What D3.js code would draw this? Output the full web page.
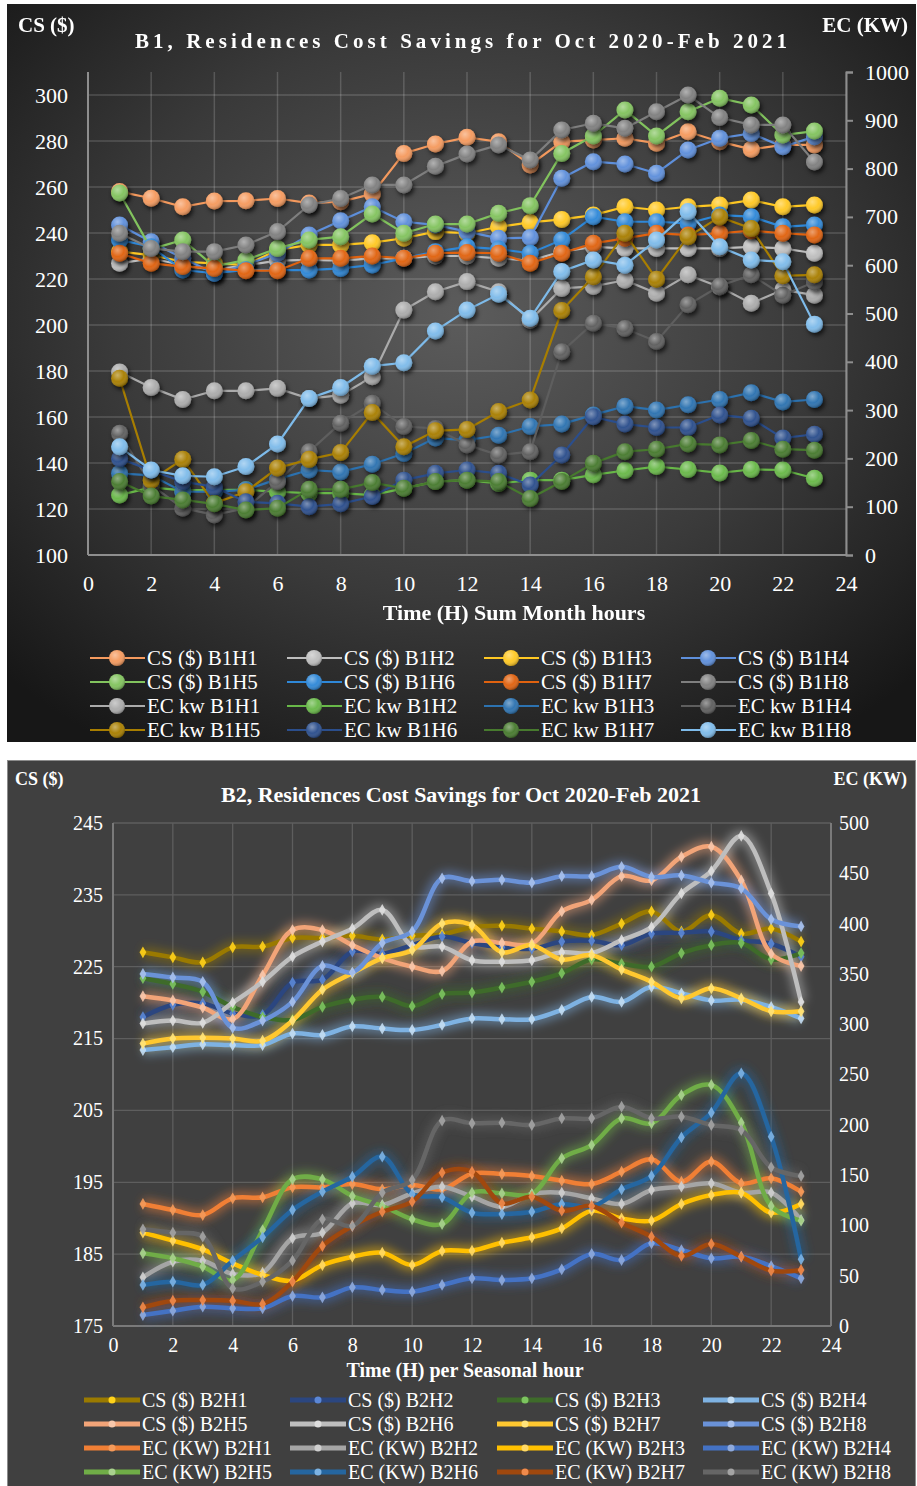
<!DOCTYPE html>
<html>
<head>
<meta charset="utf-8">
<script src="https://cdn.jsdelivr.net/npm/d3@7"></script>
<style>
  body { margin: 0; background: #fff; }
  svg text { font-family: "Liberation Serif", "Times New Roman", serif; fill: #fff; }
</style>
</head>
<body>
<svg id="viz" width="917" height="1486"></svg>
<script>
// x categories, shared by both charts
var hours = [1, 2, 3, 4, 5, 6, 7, 8, 9, 10, 11, 12, 13, 14, 15, 16, 17, 18, 19, 20, 21, 22, 23];
var xTicks = [0, 2, 4, 6, 8, 10, 12, 14, 16, 18, 20, 22, 24];

// ---------------- B1 ----------------
var b1LeftTicks = [100, 120, 140, 160, 180, 200, 220, 240, 260, 280, 300];
var b1RightTicks = [0, 100, 200, 300, 400, 500, 600, 700, 800, 900, 1000];
var b1Names = ['CS ($) B1H1', 'CS ($) B1H2', 'CS ($) B1H3', 'CS ($) B1H4',
               'CS ($) B1H5', 'CS ($) B1H6', 'CS ($) B1H7', 'CS ($) B1H8',
               'EC kw B1H1', 'EC kw B1H2', 'EC kw B1H3', 'EC kw B1H4',
               'EC kw B1H5', 'EC kw B1H6', 'EC kw B1H7', 'EC kw B1H8'];

// cost savings ($), left axis
var csB1H1 = [258, 255.1, 251.4, 253.9, 254, 255, 253, 253.6, 257, 274.6, 278.7, 281.6, 279.7, 269.6, 279.7, 280.4, 281.2, 279, 284, 279.7, 276.4, 278.3, 278.3];
var csB1H2 = [226.8, 229, 226, 224, 226, 228, 228.3, 228, 229, 229, 230, 230, 229, 228, 231.9, 234, 233.3, 233.3, 233.3, 233.3, 234, 233.3, 231.2];
var csB1H3 = [231.9, 230.4, 227.5, 226.8, 226.1, 232.6, 234.8, 234.8, 235.8, 237.7, 240.6, 239.9, 242.7, 244.6, 245.9, 247.8, 251.4, 250, 251.4, 252.2, 254.3, 251.4, 252.2];
var csB1H4 = [243.5, 236.2, 229, 222.5, 226.1, 231.2, 239.1, 245.3, 251.4, 244.9, 243.5, 240.6, 237.7, 238, 263.8, 271, 270, 266, 276.1, 281.2, 283.3, 277.5, 281.9];
var csB1H5 = [257.4, 233, 237, 225.4, 228.3, 233.3, 237, 238.4, 248.3, 239.9, 243.9, 243.9, 248.6, 251.9, 274.6, 282.2, 293.5, 282.2, 292.7, 298.6, 295.7, 282.6, 284.3];
var csB1H6 = [237, 234, 223.9, 222.5, 224, 223.9, 223.9, 224.6, 226.1, 229, 231.9, 234, 233, 231.2, 237, 247.1, 244.9, 244.9, 244.2, 247.8, 247.1, 242.7, 243.5];
var csB1H7 = [231.2, 226.8, 225.4, 224.6, 223.6, 223.6, 229, 229, 230, 229, 231.2, 231.5, 231.2, 226.8, 231.2, 235.5, 237.7, 239.9, 239.1, 239.9, 241, 239.9, 239.1];
var csB1H8 = [239.9, 233.3, 231.9, 231.9, 234.8, 240.6, 252.2, 255, 260.9, 260.9, 269, 274.3, 278.3, 271.7, 284.8, 287.7, 285.5, 292.7, 300, 290.2, 287, 287, 270.9];
// energy consumption (kW), right axis
var ecB1H1 = [379, 347, 322, 340, 340, 345, 324, 331, 369, 507, 545, 566, 545, 486, 552, 556, 569, 542, 580, 555, 521, 549, 538];
var ecB1H2 = [124, 140, 134, 135, 135, 131, 128, 128, 124, 138, 152, 155, 148, 155, 155, 166, 175, 183, 177, 170, 177, 176, 159];
var ecB1H3 = [169, 165, 131, 131, 135, 157, 176, 172, 188, 210, 242, 238, 248, 266, 271, 290, 308, 300, 311, 322, 336, 317, 322];
var ecB1H4 = [252, 145, 97, 83, 97, 152, 214, 273, 314, 266, 262, 228, 207, 214, 421, 480, 469, 442, 518, 557, 580, 538, 565];
var ecB1H5 = [366, 155, 198, 107, 131, 180, 198, 212, 295, 224, 257, 260, 297, 321, 506, 576, 666, 571, 659, 700, 676, 578, 580];
var ecB1H6 = [200, 175, 152, 141, 110, 107, 100, 106, 121, 155, 169, 176, 169, 145, 207, 286, 271, 264, 264, 290, 283, 242, 250];
var ecB1H7 = [152, 122, 114, 106, 93, 97, 136, 136, 150, 138, 152, 155, 152, 117, 152, 190, 214, 219, 230, 228, 237, 219, 217];
var ecB1H8 = [224, 176, 164, 162, 183, 230, 324, 347, 391, 398, 464, 507, 540, 490, 587, 611, 600, 652, 711, 638, 611, 607, 478];

var b1Values = [csB1H1, csB1H2, csB1H3, csB1H4, csB1H5, csB1H6, csB1H7, csB1H8,
                ecB1H1, ecB1H2, ecB1H3, ecB1H4, ecB1H5, ecB1H6, ecB1H7, ecB1H8];
var b1Colors = ['#F59A5E', '#BEBEBE', '#FFC823', '#5E8FDB', '#82C35E', '#2F88D8', '#E0620F', '#7F7F7F',
                '#ABABAB', '#68B848', '#2C72B0', '#5E5E5E', '#A87E00', '#2B4E8C', '#477A2E', '#7EBBEA'];

// ---------------- B2 ----------------
var b2LeftTicks = [175, 185, 195, 205, 215, 225, 235, 245];
var b2RightTicks = [0, 50, 100, 150, 200, 250, 300, 350, 400, 450, 500];
var b2Names = ['CS ($) B2H1', 'CS ($) B2H2', 'CS ($) B2H3', 'CS ($) B2H4',
               'CS ($) B2H5', 'CS ($) B2H6', 'CS ($) B2H7', 'CS ($) B2H8',
               'EC (KW) B2H1', 'EC (KW) B2H2', 'EC (KW) B2H3', 'EC (KW) B2H4',
               'EC (KW) B2H5', 'EC (KW) B2H6', 'EC (KW) B2H7', 'EC (KW) B2H8'];

var csB2H1 = [227, 226.3, 225.6, 227.7, 227.8, 229, 229, 229.3, 228.8, 229.3, 229.5, 230.5, 230.7, 230.3, 229.9, 229.4, 231, 232.7, 229.9, 232.2, 229.6, 230.3, 228.5];
var csB2H2 = [218, 219.7, 219.9, 218.5, 218.3, 222.8, 223.2, 227.1, 226.8, 228, 229.2, 228.3, 227.7, 227.5, 228.5, 228.6, 228, 229.6, 229.7, 229.9, 228.7, 228.2, 226.4];
var csB2H3 = [223.4, 222.6, 221.5, 219.4, 218, 217.6, 219.4, 220.4, 220.8, 219.5, 221.2, 221.4, 222.1, 222.9, 224.1, 226, 225.4, 225, 226.9, 228, 228.3, 226, 226.9];
var csB2H4 = [213.4, 213.8, 214.2, 214.1, 214.1, 215.7, 215.5, 216.7, 216.4, 216.2, 216.9, 217.8, 217.7, 217.7, 219, 220.8, 220.1, 222.2, 221.3, 220.3, 220.4, 219.4, 217.8];
var csB2H5 = [220.9, 220.3, 219.3, 217.7, 223.8, 230.1, 230.1, 228, 226.2, 225, 224.4, 228.5, 228.3, 228.2, 232.7, 234.3, 237.6, 237, 240.3, 241.7, 237, 226.8, 225.1];
var csB2H6 = [217.1, 217.5, 217.2, 220, 222.9, 226.4, 228.5, 230.3, 232.9, 227.9, 227.8, 225.9, 225.7, 225.9, 227, 226.9, 228.7, 230.5, 235.2, 238.3, 243.2, 235.2, 220.1];
var csB2H7 = [214.3, 215, 215.1, 215, 214.7, 217.5, 221.8, 224.1, 226.2, 227.3, 231, 230.8, 227, 228, 226, 226.6, 224.6, 222.9, 220.6, 222, 220.6, 218.8, 218.8];
var csB2H8 = [224, 223.5, 222.9, 216.5, 217.5, 220.1, 225.1, 224.2, 228.3, 229.9, 237.3, 236.9, 237.1, 236.7, 237.6, 237.6, 238.9, 237.5, 237.7, 236.7, 235.9, 231.6, 230.6];
var ecB2H1 = [121.3, 115.3, 110.3, 126.9, 127.9, 137.8, 137.8, 141.1, 135.9, 140.2, 135.9, 151.5, 151.1, 149.1, 144.5, 141.1, 153.4, 165.7, 143.5, 163.4, 141.8, 146.8, 133.5];
var ecB2H2 = [48.4, 63.9, 64.9, 51.7, 53, 87.2, 92.8, 121.9, 120.3, 131.9, 138.5, 128.5, 118.6, 131.2, 132.5, 126.9, 121.3, 135.2, 138.5, 141.8, 132.5, 132.5, 105.4];
var ecB2H3 = [92.8, 84.8, 76.2, 62.3, 50.7, 45, 60.6, 68.9, 72.9, 60.6, 74.6, 74.9, 82.8, 88.2, 97.1, 114.6, 107, 104.7, 121.3, 130.2, 132.5, 112.6, 121.3];
var ecB2H4 = [10.9, 15.2, 19.2, 17.6, 17.6, 29.8, 28.5, 38.4, 35.8, 34.1, 40.8, 47.4, 45.7, 47.4, 56.3, 71.6, 65.6, 82.2, 75.5, 67.3, 68.9, 59.6, 47.4];
var ecB2H5 = [72.3, 67.3, 59, 45.7, 95.4, 145.8, 145.8, 129.2, 119.3, 106.1, 101.4, 132.5, 131.8, 131.2, 166.7, 179.9, 206.4, 201.5, 229.6, 239.6, 202.1, 119.3, 104.7];
var ecB2H6 = [40.8, 44.1, 40.8, 64.9, 88.2, 115.3, 133.5, 148.4, 168.3, 131.2, 127.9, 112.6, 111.3, 113.6, 121.3, 118.6, 135.9, 149.1, 187.5, 212, 251.2, 188.2, 66.3];
var ecB2H7 = [18.6, 25.2, 25.8, 25.2, 21.9, 44.1, 79.5, 99.4, 113.6, 123.6, 152.4, 153.4, 121.9, 128.5, 114.6, 119.3, 102.7, 88.8, 69.6, 81.5, 68.9, 55, 55.7];
var ecB2H8 = [96.1, 92.8, 88.8, 37.4, 44.1, 64.9, 106.1, 99.4, 132.5, 145.1, 204.1, 201.5, 202.1, 199.8, 206.4, 206.4, 218, 206.4, 208, 199.8, 194.8, 157.7, 149.1];

var b2Values = [csB2H1, csB2H2, csB2H3, csB2H4, csB2H5, csB2H6, csB2H7, csB2H8,
                ecB2H1, ecB2H2, ecB2H3, ecB2H4, ecB2H5, ecB2H6, ecB2H7, ecB2H8];
var b2LineColors = ['#9A7A00', '#2B4680', '#3E6B2A', '#7EB2E2', '#F2A478', '#BEBEBE', '#FFC830', '#6A92D8',
                    '#F07F35', '#A5A5A5', '#FFC000', '#4472C4', '#70AD47', '#2566A0', '#A0480E', '#666666'];
var b2MarkColors = ['#FFD21A', '#5B87D6', '#7CC45F', '#C4DDF2', '#F7C7AB', '#DEDEDE', '#FFE37A', '#A9C1EC',
                    '#F49A5A', '#CFCFCF', '#FFD966', '#8FAADC', '#A9D18E', '#7DB3E3', '#F08A4B', '#A3A3A3'];

/************************** svg + shared defs **************************/
var svg = d3.select('#viz');
var defs = svg.append('defs');

var bg = defs.append('radialGradient').attr('id', 'bg1')
    .attr('cx', '50%').attr('cy', '42%').attr('r', '70%');
bg.append('stop').attr('offset', '0%').attr('stop-color', '#5c5c5c');
bg.append('stop').attr('offset', '55%').attr('stop-color', '#3a3a3a');
bg.append('stop').attr('offset', '100%').attr('stop-color', '#171717');

var gloss = defs.append('radialGradient').attr('id', 'gloss')
    .attr('cx', '38%').attr('cy', '32%').attr('r', '70%');
gloss.append('stop').attr('offset', '0%').attr('stop-color', '#fff').attr('stop-opacity', 0.4);
gloss.append('stop').attr('offset', '55%').attr('stop-color', '#fff').attr('stop-opacity', 0.03);
gloss.append('stop').attr('offset', '100%').attr('stop-color', '#000').attr('stop-opacity', 0.3);

var shadow = defs.append('filter').attr('id', 'shadow')
    .attr('filterUnits', 'userSpaceOnUse').attr('x', 0).attr('y', 0).attr('width', 917).attr('height', 1486);
shadow.append('feDropShadow').attr('dx', 2).attr('dy', 3).attr('stdDeviation', 2)
    .attr('flood-color', '#000').attr('flood-opacity', 0.65);

var glow = defs.append('filter').attr('id', 'glow')
    .attr('filterUnits', 'userSpaceOnUse').attr('x', 0).attr('y', 0).attr('width', 917).attr('height', 1486);
glow.append('feGaussianBlur').attr('stdDeviation', 5);

/******************************* chart B1 *******************************/
svg.append('rect').attr('x', 7).attr('y', 4).attr('width', 909).attr('height', 738)
   .attr('fill', 'url(#bg1)');

var x1 = d3.scaleLinear().domain([0, 24]).range([88, 846]);
var yL1 = d3.scaleLinear().domain([100, 310]).range([555, 72]);
var yR1 = d3.scaleLinear().domain([0, 1000]).range([555, 72]);

var g1 = svg.append('g');

// gridlines
g1.selectAll('.hgrid').data(b1LeftTicks.slice(1)).enter().append('line')
  .attr('x1', 88).attr('x2', 846)
  .attr('y1', d => yL1(d)).attr('y2', d => yL1(d))
  .attr('stroke', 'rgba(255,255,255,0.17)').attr('stroke-width', 1.5);
g1.selectAll('.vgrid').data(xTicks.slice(1)).enter().append('line')
  .attr('x1', d => x1(d)).attr('x2', d => x1(d))
  .attr('y1', 72).attr('y2', 555)
  .attr('stroke', 'rgba(255,255,255,0.17)').attr('stroke-width', 1.5);

// axes
var axL1 = g1.append('g').attr('transform', 'translate(88,0)')
  .call(d3.axisLeft(yL1).tickValues(b1LeftTicks).tickSize(0).tickPadding(20));
var axR1 = g1.append('g').attr('transform', 'translate(846,0)')
  .call(d3.axisRight(yR1).tickValues(b1RightTicks).tickFormat(d3.format('d')).tickSize(7).tickPadding(12));
var axB1 = g1.append('g').attr('transform', 'translate(0,555)')
  .call(d3.axisBottom(x1).tickValues(xTicks).tickSize(0).tickPadding(20));
[axL1, axR1, axB1].forEach(function(ax) {
  ax.select('.domain').attr('stroke', '#8e8e8e').attr('stroke-width', 2);
  ax.selectAll('.tick line').attr('stroke', '#8e8e8e').attr('stroke-width', 2);
  ax.selectAll('text').attr('font-size', 22).attr('fill', '#fff')
    .style('font-family', '"Liberation Serif", serif');
});
axL1.select('.domain').attr('d', 'M0,72V555');
axB1.select('.domain').attr('d', 'M88,0H846');

// series
b1Values.forEach(function(vals, i) {
  var ys = i < 8 ? yL1 : yR1;
  var line = d3.line().x((d, j) => x1(hours[j])).y(d => ys(d));
  var sg = g1.append('g');
  sg.append('path').attr('d', line(vals)).attr('fill', 'none')
    .attr('stroke', b1Colors[i]).attr('stroke-width', 2.2);
  var mg = sg.append('g').attr('filter', 'url(#shadow)');
  var pts = mg.selectAll('g').data(vals).enter().append('g')
    .attr('transform', (d, j) => 'translate(' + x1(hours[j]) + ',' + ys(d) + ')');
  pts.append('circle').attr('r', 8.5).attr('fill', b1Colors[i]);
  pts.append('circle').attr('r', 8.5).attr('fill', 'url(#gloss)');
});

// titles
svg.append('text').attr('x', 18).attr('y', 32).attr('font-size', 21).attr('font-weight', 'bold').text('CS ($)');
svg.append('text').attr('x', 908).attr('y', 32).attr('text-anchor', 'end').attr('font-size', 21).attr('font-weight', 'bold').text('EC (KW)');
svg.append('text').attr('x', 135).attr('y', 48).attr('font-size', 21).attr('font-weight', 'bold')
   .attr('textLength', 652).attr('lengthAdjust', 'spacing')
   .text('B1, Residences Cost Savings for Oct 2020-Feb 2021');
svg.append('text').attr('x', 514).attr('y', 620).attr('text-anchor', 'middle').attr('font-size', 22).attr('font-weight', 'bold')
   .text('Time (H) Sum Month hours');

// legend
var lg1X = [90, 287, 484, 681], lg1Y = [658, 682, 706, 730];
b1Names.forEach(function(name, i) {
  var lx = lg1X[i % 4], ly = lg1Y[Math.floor(i / 4)];
  var item = svg.append('g').attr('transform', 'translate(' + lx + ',' + ly + ')');
  item.append('line').attr('x1', 0).attr('x2', 55).attr('stroke', b1Colors[i]).attr('stroke-width', 2.2);
  item.append('circle').attr('cx', 27).attr('r', 8).attr('fill', b1Colors[i]);
  item.append('circle').attr('cx', 27).attr('r', 8).attr('fill', 'url(#gloss)');
  item.append('text').attr('x', 57).attr('dy', '0.35em').attr('font-size', 21).text(name);
});

/******************************* chart B2 *******************************/
svg.append('rect').attr('x', 7.5).attr('y', 760.5).attr('width', 908).attr('height', 726)
   .attr('fill', '#404040').attr('stroke', '#8c8c8c');

var x2 = d3.scaleLinear().domain([0, 24]).range([113, 831]);
var yL2 = d3.scaleLinear().domain([175, 245]).range([1326, 823]);
var yR2 = d3.scaleLinear().domain([0, 500]).range([1326, 823]);

var g2 = svg.append('g');

g2.selectAll('.hgrid').data(b2LeftTicks.slice(1)).enter().append('line')
  .attr('x1', 113).attr('x2', 831)
  .attr('y1', d => yL2(d)).attr('y2', d => yL2(d))
  .attr('stroke', '#5e5e5e').attr('stroke-width', 1.3);
g2.selectAll('.vgrid').data(xTicks.slice(1)).enter().append('line')
  .attr('x1', d => x2(d)).attr('x2', d => x2(d))
  .attr('y1', 823).attr('y2', 1326)
  .attr('stroke', '#5e5e5e').attr('stroke-width', 1.3);

var axL2 = g2.append('g').attr('transform', 'translate(113,0)')
  .call(d3.axisLeft(yL2).tickValues(b2LeftTicks).tickSize(0).tickPadding(10));
var axR2 = g2.append('g').attr('transform', 'translate(831,0)')
  .call(d3.axisRight(yR2).tickValues(b2RightTicks).tickSize(0).tickPadding(8));
var axB2 = g2.append('g').attr('transform', 'translate(0,1326)')
  .call(d3.axisBottom(x2).tickValues(xTicks).tickSize(0).tickPadding(12));
[axL2, axR2, axB2].forEach(function(ax) {
  ax.select('.domain').attr('stroke', '#7a7a7a').attr('stroke-width', 2);
  ax.selectAll('text').attr('font-size', 20).attr('fill', '#fff')
    .style('font-family', '"Liberation Serif", serif');
});
axL2.select('.domain').attr('d', 'M0,823V1326');
axR2.select('.domain').attr('d', 'M0,823V1326');
axB2.select('.domain').attr('d', 'M113,0H831');

// glow layer first, then the lines and markers
b2Values.forEach(function(vals, i) {
  var ys = i < 8 ? yL2 : yR2;
  var line = d3.line().x((d, j) => x2(hours[j])).y(d => ys(d)).curve(d3.curveCatmullRom.alpha(0.5));
  g2.append('path').attr('d', line(vals)).attr('fill', 'none')
    .attr('stroke', b2LineColors[i]).attr('stroke-width', 12).attr('stroke-opacity', 0.5)
    .attr('filter', 'url(#glow)');
});
b2Values.forEach(function(vals, i) {
  var ys = i < 8 ? yL2 : yR2;
  var line = d3.line().x((d, j) => x2(hours[j])).y(d => ys(d)).curve(d3.curveCatmullRom.alpha(0.5));
  var sg = g2.append('g');
  sg.append('path').attr('d', line(vals)).attr('fill', 'none')
    .attr('stroke', b2LineColors[i]).attr('stroke-width', 4.5).attr('stroke-linecap', 'round');
  sg.selectAll('path.mk').data(vals).enter().append('path')
    .attr('d', d3.symbol(d3.symbolDiamond).size(40))
    .attr('transform', (d, j) => 'translate(' + x2(hours[j]) + ',' + ys(d) + ')')
    .attr('fill', b2MarkColors[i]).attr('fill-opacity', 0.9);
});

svg.append('text').attr('x', 15).attr('y', 785).attr('font-size', 18).attr('font-weight', 'bold').text('CS ($)');
svg.append('text').attr('x', 907).attr('y', 785).attr('text-anchor', 'end').attr('font-size', 18).attr('font-weight', 'bold').text('EC (KW)');
svg.append('text').attr('x', 461).attr('y', 802).attr('text-anchor', 'middle').attr('font-size', 22).attr('font-weight', 'bold')
   .text('B2, Residences Cost Savings for Oct 2020-Feb 2021');
svg.append('text').attr('x', 465).attr('y', 1377).attr('text-anchor', 'middle').attr('font-size', 20).attr('font-weight', 'bold')
   .text('Time (H) per Seasonal hour');

var lg2X = [84, 290, 497, 703], lg2Y = [1400, 1424, 1448, 1472];
b2Names.forEach(function(name, i) {
  var lx = lg2X[i % 4], ly = lg2Y[Math.floor(i / 4)];
  var item = svg.append('g').attr('transform', 'translate(' + lx + ',' + ly + ')');
  item.append('line').attr('x1', 0).attr('x2', 56).attr('stroke', b2LineColors[i]).attr('stroke-width', 5);
  item.append('circle').attr('cx', 28).attr('r', 3.5).attr('fill', b2MarkColors[i]);
  item.append('text').attr('x', 58).attr('dy', '0.35em').attr('font-size', 20).text(name);
});
</script>
</body>
</html>
